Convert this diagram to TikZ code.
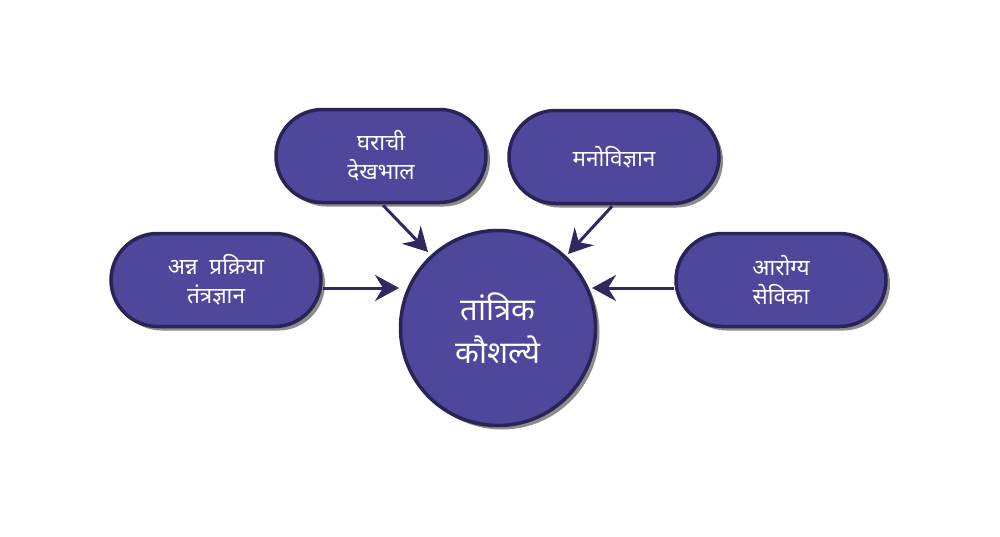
\documentclass[tikz,border=0pt]{standalone}
\usepackage{fontspec}
\newfontfamily\deva[Script=Devanagari]{Noto Sans}
\usetikzlibrary{shapes.misc,shadows,arrows.meta}
\definecolor{pillfill}{HTML}{4F479C}
\definecolor{pilledge}{HTML}{2A2356}
\definecolor{arrowcol}{HTML}{2E2960}
\tikzset{
  pill/.style={rounded rectangle, draw=pilledge, line width=3.5pt, fill=pillfill,
    minimum width=210pt, minimum height=93pt, inner sep=0pt,
    text=white, align=center, font=\deva\fontsize{22.5}{29}\selectfont,
    drop shadow={shadow xshift=4pt, shadow yshift=-4pt, opacity=0.6, fill=black!75}},
  hub/.style={circle, draw=pilledge, line width=3.5pt, fill=pillfill,
    minimum size=195pt, inner sep=0pt,
    text=white, align=center, font=\deva\fontsize{31}{43}\selectfont,
    drop shadow={shadow xshift=4pt, shadow yshift=-4pt, opacity=0.6, fill=black!75}},
  conn/.style={draw=arrowcol, line width=3pt,
    -{Stealth[inset=8pt, length=24pt, width=26pt]}}
}
\begin{document}
\begin{tikzpicture}[x=1pt,y=-1pt]
\useasboundingbox (0,0) rectangle (1000,536);
\node[hub] (c) at (498,328) {तांत्रिक\\कौशल्ये};
\node[pill] (l) at (216,280) {अन्न\ \ प्रक्रिया\\तंत्रज्ञान};
\node[pill] (tl) at (381,156) {घराची\\देखभाल};
\node[pill] (tr) at (614,157) {मनोविज्ञान};
\node[pill] (r) at (781,280) {आरोग्य\\सेविका};
\coordinate (ls) at (323,288);
\coordinate (le) at (399,288);
\coordinate (rs) at (674,288);
\coordinate (re) at (592,288);
\draw[conn] (ls) -- (le);
\draw[conn] (rs) -- (re);
\draw[conn] (tl.south) ++(2,1) coordinate (tls) -- (428,252) coordinate (tle);
\draw[conn] (tr.south) ++(-2,1) coordinate (trs) -- (568,254) coordinate (tre);
\end{tikzpicture}
\end{document}
